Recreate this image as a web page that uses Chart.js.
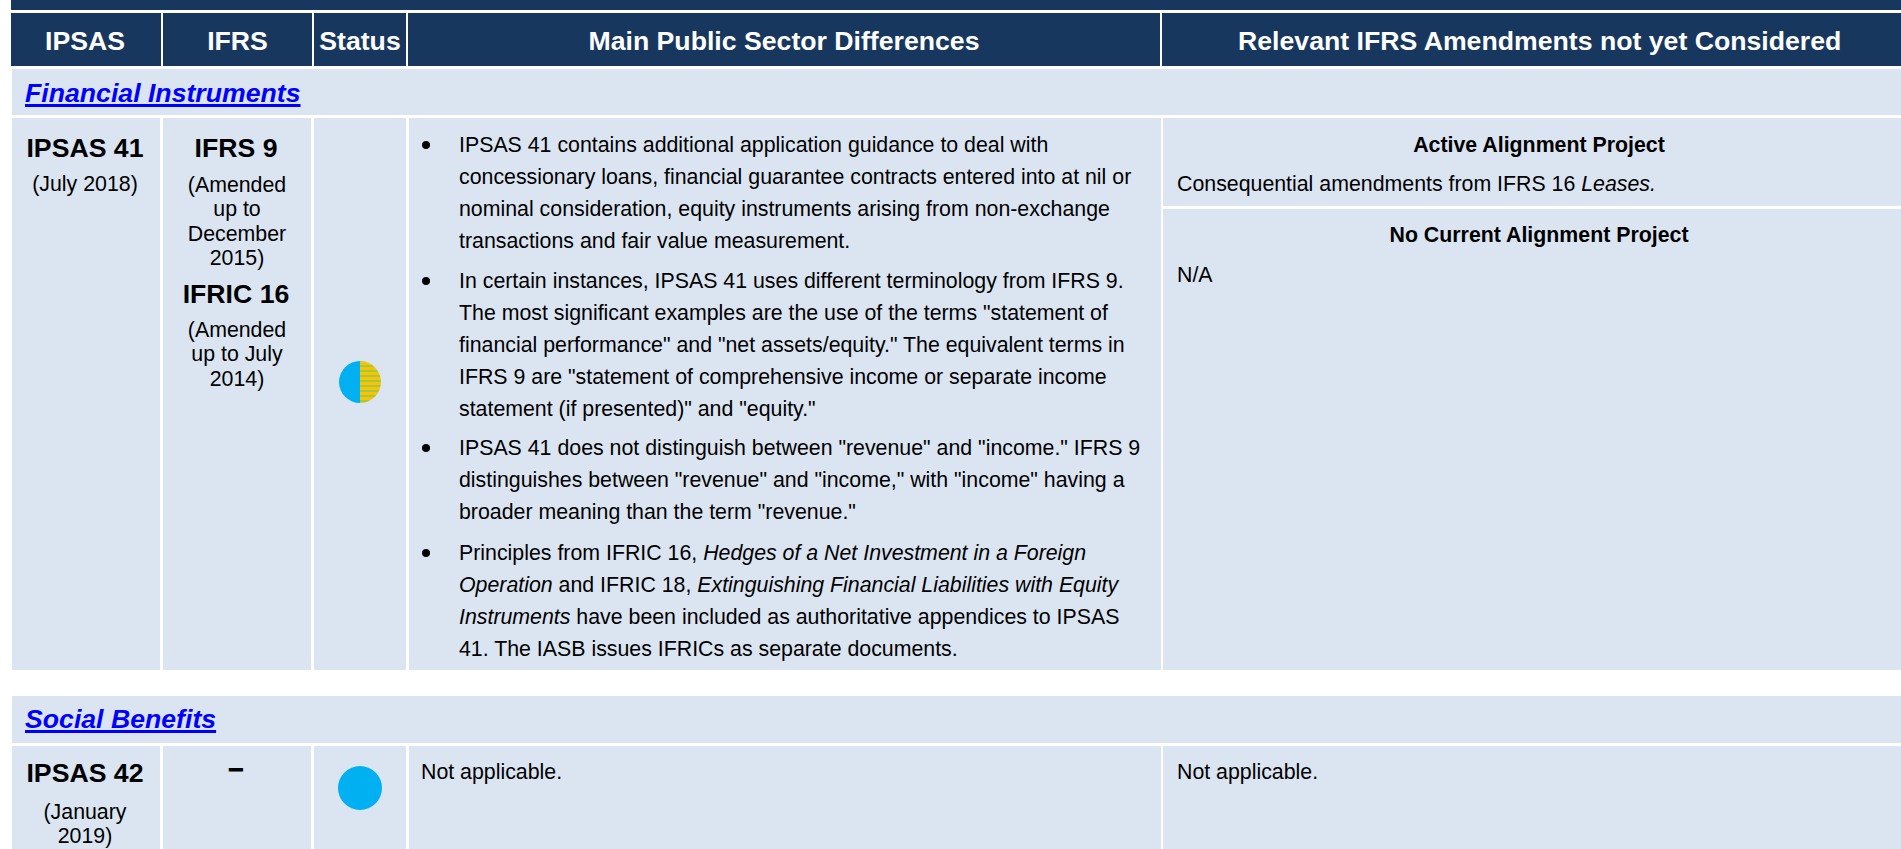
<!DOCTYPE html>
<html><head><meta charset="utf-8">
<script src="https://cdn.jsdelivr.net/npm/chart.js@4"></script>
<style>
html,body{margin:0;padding:0;background:#fff;overflow:hidden}
#page{position:relative;width:1901px;height:849px;overflow:hidden;font-family:"Liberation Sans",Arial,sans-serif;color:#000}
.b{position:absolute;background:#DBE5F1}
.h{position:absolute;background:#17375E;color:#fff;font-weight:bold;font-size:26.67px;text-align:center;line-height:57px;top:13px;height:53px;white-space:nowrap;overflow:hidden}
.t{position:absolute;white-space:nowrap;font-size:21.33px;line-height:32px}
.c{text-align:center;transform:translateX(-50%)}
.n{font-weight:bold;font-size:26.67px}
.m{line-height:24.3px}
.link{color:#00f;font-weight:bold;font-style:italic;font-size:26.67px;text-decoration:underline;text-decoration-thickness:3px}
.bu{position:absolute;width:8px;height:8px;border-radius:50%;background:#000;left:422px}
canvas{display:block}
.pie{position:absolute;width:60px;height:60px}
</style></head><body>
<div id="page">
<div class="h" style="left:11px;top:0;width:1890px;height:10px"></div>
<div class="h" style="left:11px;width:150px;text-indent:-2px">IPSAS</div>
<div class="h" style="left:163px;width:149px">IFRS</div>
<div class="h" style="left:314px;width:92px">Status</div>
<div class="h" style="left:408px;width:752px">Main Public Sector Differences</div>
<div class="h" style="left:1162px;width:739px;text-align:left;text-indent:76px">Relevant IFRS Amendments not yet Considered</div>

<div class="b" style="left:12px;top:69px;width:1889px;height:46px"></div>
<div class="t link" style="left:25px;top:77px">Financial Instruments</div>
<div class="b" style="left:12px;top:118px;width:148px;height:552px"></div>
<div class="b" style="left:163px;top:118px;width:148px;height:552px"></div>
<div class="b" style="left:314px;top:118px;width:92px;height:552px"></div>
<div class="b" style="left:409px;top:118px;width:752px;height:552px"></div>
<div class="b" style="left:1163px;top:118px;width:738px;height:88px"></div>
<div class="b" style="left:1163px;top:209px;width:738px;height:461px"></div>

<div class="t n c" style="left:85px;top:132px">IPSAS 41</div>
<div class="t c" style="left:85px;top:168px">(July 2018)</div>
<div class="t n c" style="left:236px;top:132px">IFRS 9</div>
<div class="t c m" style="left:237px;top:173px">(Amended<br>up to<br>December<br>2015)</div>
<div class="t n c" style="left:236px;top:278px">IFRIC 16</div>
<div class="t c m" style="left:237px;top:318px">(Amended<br>up to July<br>2014)</div>

<div class="bu" style="top:141px"></div><div class="bu" style="top:277px"></div><div class="bu" style="top:444px"></div><div class="bu" style="top:549px"></div>
<div class="t" style="left:459px;top:129px">IPSAS 41 contains additional application guidance to deal with<br>concessionary loans, financial guarantee contracts entered into at nil or<br>nominal consideration, equity instruments arising from non-exchange<br>transactions and fair value measurement.</div>
<div class="t" style="left:459px;top:265px">In certain instances, IPSAS 41 uses different terminology from IFRS 9.<br>The most significant examples are the use of the terms "statement of<br>financial performance" and "net assets/equity." The equivalent terms in<br>IFRS 9 are "statement of comprehensive income or separate income<br>statement (if presented)" and "equity."</div>
<div class="t" style="left:459px;top:432px">IPSAS 41 does not distinguish between "revenue" and "income." IFRS 9<br>distinguishes between "revenue" and "income," with "income" having a<br>broader meaning than the term "revenue."</div>
<div class="t" style="left:459px;top:537px">Principles from IFRIC 16, <i>Hedges of a Net Investment in a Foreign</i><br><i>Operation</i> and IFRIC 18, <i>Extinguishing Financial Liabilities with Equity</i><br><i>Instruments</i> have been included as authoritative appendices to IPSAS<br>41. The IASB issues IFRICs as separate documents.</div>

<div class="t c" style="left:1539px;top:129px;font-weight:bold">Active Alignment Project</div>
<div class="t" style="left:1177px;top:168px">Consequential amendments from IFRS 16 <i>Leases.</i></div>
<div class="t c" style="left:1539px;top:219px;font-weight:bold">No Current Alignment Project</div>
<div class="t" style="left:1177px;top:259px">N/A</div>

<div class="b" style="left:12px;top:696px;width:1889px;height:47px"></div>
<div class="t link" style="left:25px;top:703px">Social Benefits</div>
<div class="b" style="left:12px;top:746px;width:148px;height:103px"></div>
<div class="b" style="left:163px;top:746px;width:148px;height:103px"></div>
<div class="b" style="left:314px;top:746px;width:92px;height:103px"></div>
<div class="b" style="left:409px;top:746px;width:752px;height:103px"></div>
<div class="b" style="left:1163px;top:746px;width:738px;height:103px"></div>
<div class="t n c" style="left:85px;top:757px">IPSAS 42</div>
<div class="t c m" style="left:85px;top:800px">(January<br>2019)</div>
<div class="t n c" style="left:236px;top:752px;-webkit-text-stroke:1px #000">–</div>
<div class="t" style="left:421px;top:756px">Not applicable.</div>
<div class="t" style="left:1177px;top:756px">Not applicable.</div>

<div class="pie" style="left:330px;top:352px"><canvas id="pie41" width="60" height="60"></canvas></div>
<div class="pie" style="left:330px;top:758px"><canvas id="pie42" width="60" height="60"></canvas></div>
</div>
<script>
const statusLabels41 = ["Alignment in progress", "Aligned"];
const statusValues41 = [50, 50];
const statusLabels42 = ["Aligned"];
const statusValues42 = [100];

function stripes(){
  const c=document.createElement('canvas');c.width=4;c.height=5;
  const x=c.getContext('2d');
  x.fillStyle='#9CCB48';x.fillRect(0,0,4,5);
  x.fillStyle='#FFC000';x.fillRect(0,0,4,3);
  return x.createPattern(c,'repeat');
}
const blue='#00B0F0';
function pie(id,labels,values,colors,r){
  new Chart(document.getElementById(id),{
    type:'pie',
    data:{labels:labels,datasets:[{data:values,backgroundColor:colors,borderWidth:0}]},
    options:{responsive:false,animation:false,radius:r,layout:{padding:0},
      plugins:{legend:{display:false},title:{display:false},tooltip:{enabled:false}}}
  });
}
pie('pie41',statusLabels41,statusValues41,[stripes(),blue],21);
pie('pie42',statusLabels42,statusValues42,[blue],22);
</script>
</body></html>
